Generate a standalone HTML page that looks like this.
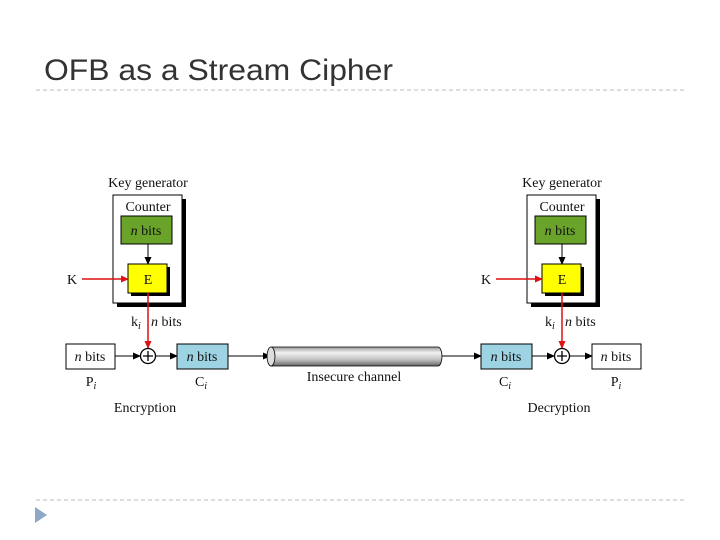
<!DOCTYPE html>
<html><head><meta charset="utf-8"><style>
html,body{margin:0;padding:0;background:#fff;}
svg{display:block;}
.t{font-family:"Liberation Serif",serif;font-size:14px;fill:#111;}
</style></head><body>
<svg width="720" height="540" viewBox="0 0 720 540" xmlns="http://www.w3.org/2000/svg">
<defs>
<marker id="ab" markerWidth="8" markerHeight="8" refX="7" refY="4" orient="auto" markerUnits="userSpaceOnUse"><path d="M0,0.5 L8,4 L0,7.5 Z" fill="#000"/></marker>
<marker id="ar" markerWidth="8" markerHeight="8" refX="7" refY="4" orient="auto" markerUnits="userSpaceOnUse"><path d="M0,0.5 L8,4 L0,7.5 Z" fill="#d11"/></marker>
<linearGradient id="cyl" x1="0" y1="0" x2="0" y2="1">
<stop offset="0" stop-color="#999"/><stop offset="0.3" stop-color="#f2f2f2"/><stop offset="0.65" stop-color="#c4c4c4"/><stop offset="1" stop-color="#666"/>
</linearGradient>
</defs>
<text x="44" y="80" font-family="Liberation Sans,sans-serif" font-size="30" fill="#333" textLength="349" lengthAdjust="spacingAndGlyphs">OFB as a Stream Cipher</text>
<line x1="36" y1="90" x2="686" y2="90" stroke="#bbb" stroke-dasharray="4,3"/>
<line x1="36" y1="500" x2="686" y2="500" stroke="#bbb" stroke-dasharray="4,3"/>
<path d="M35,507 L47,515 L35,523 Z" fill="#8fa8c8"/>

<g id="kg">
<text class="t" x="148" y="187" text-anchor="middle">Key generator</text>
<rect x="117" y="199" width="69" height="108" fill="#000"/>
<rect x="113" y="195" width="69" height="108" fill="#fff" stroke="#000"/>
<text class="t" x="148" y="211" text-anchor="middle">Counter</text>
<rect x="121" y="216" width="51" height="28" fill="#6aa329" stroke="#000"/>
<text class="t" x="146" y="235" text-anchor="middle"><tspan font-style="italic">n</tspan> bits</text>
<line x1="148" y1="244" x2="148" y2="264" stroke="#000" marker-end="url(#ab)"/>
<rect x="131" y="267" width="39" height="29" fill="#000"/>
<rect x="128" y="264" width="39" height="29" fill="#ffff00" stroke="#000"/>
<text class="t" x="148" y="284" text-anchor="middle">E</text>
<text class="t" x="72" y="284" text-anchor="middle">K</text>
<line x1="82" y1="279" x2="128" y2="279" stroke="#d11" stroke-width="1.5" marker-end="url(#ar)"/>
<line x1="148" y1="293" x2="148" y2="348" stroke="#d11" stroke-width="1.5" marker-end="url(#ar)"/>
<text class="t" x="131" y="326">k<tspan font-size="10" font-style="italic" dy="3">i</tspan></text>
<text class="t" x="151" y="326"><tspan font-style="italic">n</tspan> bits</text>
</g>
<use href="#kg" x="414"/>

<rect x="66" y="344" width="49" height="25" fill="#fff" stroke="#000"/>
<text class="t" x="90" y="361" text-anchor="middle"><tspan font-style="italic">n</tspan> bits</text>
<text class="t" x="91" y="386" text-anchor="middle">P<tspan font-size="10" font-style="italic" dy="3">i</tspan></text>
<line x1="115" y1="356" x2="140" y2="356" stroke="#000" marker-end="url(#ab)"/>
<circle cx="148" cy="356" r="7.5" fill="#fff" stroke="#000" stroke-width="1.3"/>
<path d="M143,356 H153 M148,351 V361" stroke="#000" stroke-width="1.3"/>
<line x1="156" y1="356" x2="177" y2="356" stroke="#000" marker-end="url(#ab)"/>
<rect x="177" y="344" width="51" height="25" fill="#9dd3e3" stroke="#000"/>
<text class="t" x="202" y="361" text-anchor="middle"><tspan font-style="italic">n</tspan> bits</text>
<text class="t" x="201" y="386" text-anchor="middle">C<tspan font-size="10" font-style="italic" dy="3">i</tspan></text>
<text class="t" x="145" y="412" text-anchor="middle">Encryption</text>
<line x1="228" y1="356" x2="270" y2="356" stroke="#000" marker-end="url(#ab)"/>

<path d="M271,347 H438 A4,9.5 0 0 1 438,366 H271 Z" fill="url(#cyl)" stroke="#000" stroke-width="0.8"/>
<ellipse cx="271" cy="356.5" rx="4" ry="9.5" fill="#ddd" stroke="#000" stroke-width="0.8"/>
<text class="t" x="354" y="381" text-anchor="middle">Insecure channel</text>
<line x1="442" y1="356" x2="481" y2="356" stroke="#000" marker-end="url(#ab)"/>

<rect x="481" y="344" width="51" height="25" fill="#9dd3e3" stroke="#000"/>
<text class="t" x="506" y="361" text-anchor="middle"><tspan font-style="italic">n</tspan> bits</text>
<text class="t" x="505" y="386" text-anchor="middle">C<tspan font-size="10" font-style="italic" dy="3">i</tspan></text>
<line x1="532" y1="356" x2="554" y2="356" stroke="#000" marker-end="url(#ab)"/>
<circle cx="562" cy="356" r="7.5" fill="#fff" stroke="#000" stroke-width="1.3"/>
<path d="M557,356 H567 M562,351 V361" stroke="#000" stroke-width="1.3"/>
<line x1="570" y1="356" x2="592" y2="356" stroke="#000" marker-end="url(#ab)"/>
<rect x="592" y="344" width="49" height="25" fill="#fff" stroke="#000"/>
<text class="t" x="616" y="361" text-anchor="middle"><tspan font-style="italic">n</tspan> bits</text>
<text class="t" x="616" y="386" text-anchor="middle">P<tspan font-size="10" font-style="italic" dy="3">i</tspan></text>
<text class="t" x="559" y="412" text-anchor="middle">Decryption</text>
</svg>
</body></html>
